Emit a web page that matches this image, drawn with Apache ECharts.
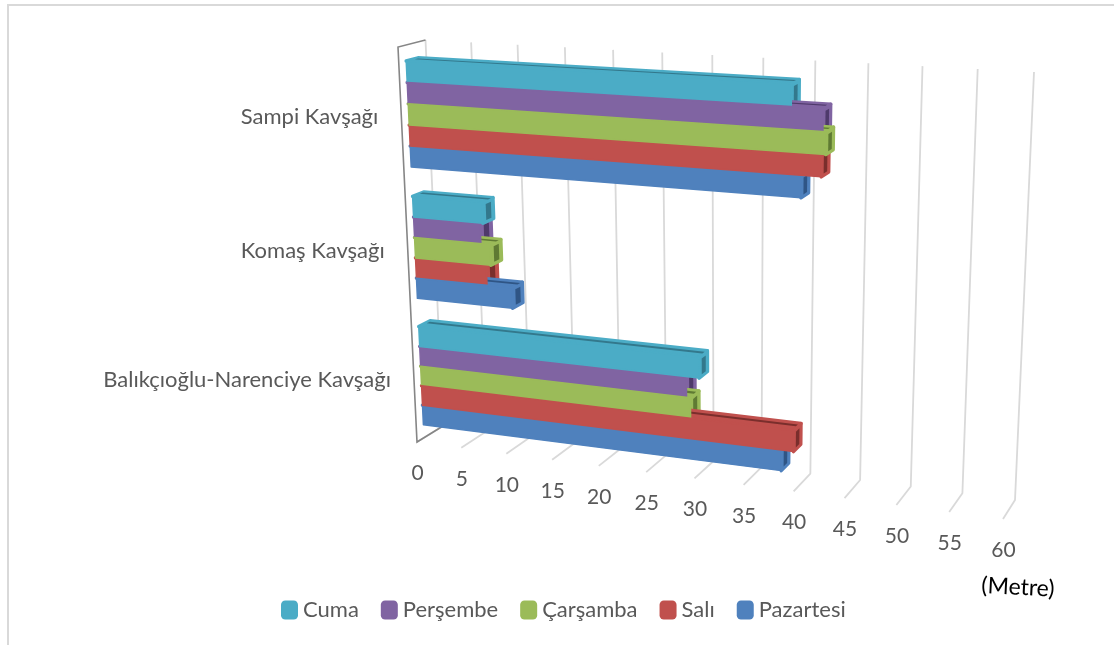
<!DOCTYPE html>
<html><head><meta charset="utf-8">
<style>html,body{margin:0;padding:0;background:#fff}#c{width:1114px;height:645px}</style>
<script src="https://cdn.jsdelivr.net/npm/echarts@6/dist/echarts.min.js"></script>
</head><body><div id="c"></div>
<script>
const categories = ['Sampi Kavşağı', 'Komaş Kavşağı', 'Balıkçıoğlu-Narenciye Kavşağı'];
const valueTicks = [0, 5, 10, 15, 20, 25, 30, 35, 40, 45, 50, 55, 60];
const cuma = [39, 7.6, 30];
const persembe = [42, 7.3, 28.7];
const carsamba = [42.3, 8.3, 29.1];
const sali = [41.9, 7.8, 39.5];
const pazartesi = [40, 10.5, 38.3];
const unitLabel = '(Metre)';

const weekdays = [
  {name:'Cuma', values:cuma, color:'#4BACC6', dark:'#33788C'},
  {name:'Perşembe', values:persembe, color:'#8064A2', dark:'#4F3A6B'},
  {name:'Çarşamba', values:carsamba, color:'#9BBB59', dark:'#5F7A33'},
  {name:'Salı', values:sali, color:'#C0504D', dark:'#7A2E2C'},
  {name:'Pazartesi', values:pazartesi, color:'#4F81BD', dark:'#2F5585'}
];

const FONT = 'Lato, "Open Sans", sans-serif';

function quad(p0,p1,p2,p3){
  const dx1=p1[0]-p2[0],dx2=p3[0]-p2[0],sx=p0[0]-p1[0]+p2[0]-p3[0];
  const dy1=p1[1]-p2[1],dy2=p3[1]-p2[1],sy=p0[1]-p1[1]+p2[1]-p3[1];
  const den=dx1*dy2-dx2*dy1;
  const g=(sx*dy2-dx2*sy)/den,h=(dx1*sy-sx*dy1)/den;
  const a=p1[0]-p0[0]+g*p1[0],b=p3[0]-p0[0]+h*p3[0],c=p0[0];
  const d=p1[1]-p0[1]+g*p1[1],e=p3[1]-p0[1]+h*p3[1],f=p0[1];
  return (u,v)=>{const w=g*u+h*v+1;return [(a*u+b*v+c)/w,(d*u+e*v+f)/w];};
}
// perspective of the 3D box: rear wall and front plane
const rear = quad([425.5,40],[1034,72],[1015,500],[443,426]);
const front = quad([398,47],[1021,82],[1003,519],[417,442]);
// u,t normalised from the grid; d = 0 at front, 1 at rear
function project(u,t,d){
  const a=front(u,t),b=rear(u,t);
  return [a[0]+(b[0]-a[0])*d,a[1]+(b[1]-a[1])*d];
}
const DF=0.27, DB=0.70, GROUP_START=0.115, GROUP_SPAN=0.78;

function barRender(si, w){
  return function(params, api){
    const cs=params.coordSys;
    const v=api.value(0);
    const p=api.coord([v, api.value(1)]);
    const p0=api.coord([0, api.value(1)]);
    const band=api.size([0,1])[1];
    const u0=(p0[0]-cs.x)/cs.width, u1=(p[0]-cs.x)/cs.width;
    const top=(p[1]-band/2-cs.y)/cs.height;
    const bh=band/cs.height;
    const t0=top+bh*(GROUP_START+GROUP_SPAN*si/5), t1=top+bh*(GROUP_START+GROUP_SPAN*(si+1)/5);
    const rank=Math.round(v*10);
    const P=project;
    const poly=(pts,fill,stroke,lw,z)=>({type:'polygon',z2:z,shape:{points:pts},
      style:{fill:fill,stroke:stroke||null,lineWidth:lw||0,lineJoin:'round'}});
    const dd=DB-DF, tt=t1-t0, inset=(u1-u0)*0.005;
    return {type:'group',children:[
      poly([P(u0,t0,DF),P(u0,t0,DB),P(u1,t0,DB),P(u1,t0,DF)],w.color,w.color,3.5,rank),
      poly([P(u0+inset,t0,DF+dd*0.58),P(u0+inset,t0,DF+dd*0.85),P(u1-inset,t0,DF+dd*0.85),P(u1-inset,t0,DF+dd*0.58)],w.dark,null,0,rank+1),
      poly([P(u1,t0,DF),P(u1,t0,DB),P(u1,t1,DB),P(u1,t1,DF)],w.color,w.color,3.5,rank),
      poly([P(u1,t0+tt*0.16,DF+dd*0.32),P(u1,t0+tt*0.16,DF+dd*0.8),P(u1,t1-tt*0.08,DF+dd*0.8),P(u1,t1-tt*0.08,DF+dd*0.32)],w.dark,null,0,rank+1),
      poly([P(u0,t0,DF),P(u1,t0,DF),P(u1,t1,DF),P(u0,t1,DF)],w.color,w.color,1.5,2000+rank)
    ]};
  };
}

function gridRender(params, api){
  const cs=params.coordSys, v=api.value(0);
  const u=(api.coord([v,0])[0]-cs.x)/cs.width;
  const a=rear(u,0),b=rear(u,1),c=front(u,1);
  const kids=[{type:'polyline',z2:1,shape:{points:[a,b,c]},style:{fill:null,stroke:'#D9D9D9',lineWidth:1.8,lineJoin:'round'}}];
  if(v===0){
    kids.push({type:'polyline',z2:2,shape:{points:[a,front(u,0),c,b]},style:{fill:null,stroke:'#868686',lineWidth:1.6,lineJoin:'miter'}});
  }
  kids.push({type:'text',z2:3,style:{text:String(v),x:c[0]+0.5,y:c[1]+31,align:'center',verticalAlign:'middle',fill:'#595959',font:'21px '+FONT}});
  return {type:'group',children:kids};
}

function catRender(params, api){
  const cs=params.coordSys;
  const p=api.coord([0, api.value(1)]);
  const t=(p[1]-cs.y)/cs.height;
  const a=front(0,t);
  return {type:'text',style:{text:categories[api.value(1)],x:a[0]-23,y:a[1]+0.5,align:'right',verticalAlign:'middle',fill:'#595959',font:'22px '+FONT}};
}

const series=[
  {type:'custom',name:'kılavuz',silent:true,coordinateSystem:'cartesian2d',renderItem:gridRender,
   data:valueTicks.map(v=>[v,0]),encode:{x:0,y:1},z:1},
  {type:'custom',name:'kategori',silent:true,coordinateSystem:'cartesian2d',renderItem:catRender,
   data:categories.map((c,i)=>[0,i]),encode:{x:0,y:1},z:1}
];
weekdays.forEach((w,si)=>{
  series.push({type:'custom',name:w.name,coordinateSystem:'cartesian2d',renderItem:barRender(si,w),
    itemStyle:{color:w.color},encode:{x:0,y:1},z:2,
    data:w.values.map((v,i)=>[v,i])});
});

const chart=echarts.init(document.getElementById('c'),null,{renderer:'canvas'});
chart.setOption({
  animation:false,
  backgroundColor:'#fff',
  grid:{left:100,right:100,top:100,bottom:100},
  xAxis:{type:'value',min:0,max:60,interval:5,show:false},
  yAxis:{type:'category',data:categories,inverse:true,show:false},
  legend:{data:weekdays.map(w=>w.name),left:281,top:599,padding:0,itemWidth:17,itemHeight:19,itemGap:22,icon:'roundRect',
    selectedMode:false,textStyle:{color:'#595959',fontSize:22,fontFamily:FONT}},
  tooltip:{show:false},
  graphic:[
    {type:'polyline',shape:{points:[[8,645],[8,5],[1114,5]]},style:{fill:null,stroke:'#D9D9D9',lineWidth:2}},
    {type:'text',x:982,y:574,rotation:-0.05,style:{text:unitLabel,fill:'#000',font:'23px '+FONT}}
  ],
  series:series
});
</script></body></html>
